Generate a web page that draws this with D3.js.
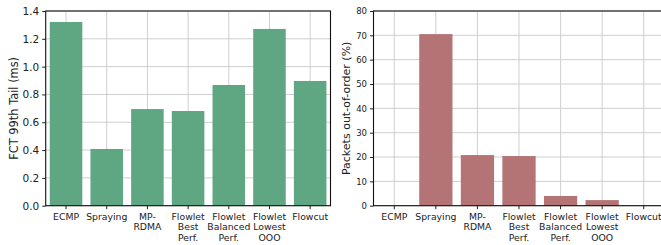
<!DOCTYPE html>
<html>
<head>
<meta charset="utf-8">
<script src="https://cdn.jsdelivr.net/npm/d3@7"></script>
<style>
  body { margin: 0; background: #fff; }
  svg { display: block; font-family: "DejaVu Sans", sans-serif; }
</style>
</head>
<body>
<div id="chart"></div>
<script>
// categories (multi-line labels)
const categories = [
  ["ECMP"],
  ["Spraying"],
  ["MP-", "RDMA"],
  ["Flowlet", "Best", "Perf."],
  ["Flowlet", "Balanced", "Perf."],
  ["Flowlet", "Lowest", "OOO"],
  ["Flowcut"]
];

// series values
const fctTail = [1.321, 0.408, 0.695, 0.681, 0.868, 1.271, 0.897];
const outOfOrder = [0, 70.5, 20.8, 20.4, 4.0, 2.3, 0];

// tick labels
const fctTicks = [0, 0.2, 0.4, 0.6, 0.8, 1.0, 1.2, 1.4];
const oooTicks = [0, 10, 20, 30, 40, 50, 60, 70, 80];

const W = 661, H = 245;

const svg = d3.select("#chart")
  .append("svg")
  .attr("width", W)
  .attr("height", H);

function drawPanel(opts) {
  const { left, right, top, bottom, values, ticks, yMax, color, label,
          labelX, labelSize, tickSize, fmt } = opts;
  const keys = categories.map((c, i) => i);

  const x = d3.scaleBand()
    .domain(keys)
    .range([left, right])
    .paddingInner(0.2)
    .paddingOuter(0.1);

  const y = d3.scaleLinear()
    .domain([0, yMax])
    .range([bottom, top]);

  const g = svg.append("g");

  // grid lines
  g.append("g")
    .selectAll("line.hgrid")
    .data(ticks)
    .join("line")
    .attr("x1", left).attr("x2", right)
    .attr("y1", d => y(d)).attr("y2", d => y(d))
    .attr("stroke", "#cfcfcf")
    .attr("stroke-width", 1);

  g.append("g")
    .selectAll("line.vgrid")
    .data(keys)
    .join("line")
    .attr("x1", d => x(d) + x.bandwidth() / 2)
    .attr("x2", d => x(d) + x.bandwidth() / 2)
    .attr("y1", top).attr("y2", bottom)
    .attr("stroke", "#cfcfcf")
    .attr("stroke-width", 1);

  // bars
  g.append("g")
    .selectAll("rect")
    .data(values)
    .join("rect")
    .attr("x", (d, i) => x(i))
    .attr("width", x.bandwidth())
    .attr("y", d => y(d))
    .attr("height", d => bottom - y(d))
    .attr("fill", color);

  // y axis
  const yAxis = g.append("g")
    .attr("transform", `translate(${left},0)`)
    .call(d3.axisLeft(y).tickValues(ticks).tickFormat(fmt).tickSizeOuter(0).tickSize(3.5).tickPadding(3));
  yAxis.select(".domain").remove();
  yAxis.selectAll("text")
    .attr("font-size", tickSize)
    .attr("fill", "#222")
    .attr("font-family", "DejaVu Sans");
  yAxis.selectAll("line").attr("stroke", "#222");

  // x axis
  const xAxis = g.append("g")
    .attr("transform", `translate(0,${bottom})`)
    .call(d3.axisBottom(x).tickFormat("").tickSizeOuter(0).tickSize(3.5));
  xAxis.select(".domain").remove();
  xAxis.selectAll("line").attr("stroke", "#222");

  xAxis.selectAll(".tick")
    .append("text")
    .attr("fill", "#222")
    .attr("font-size", 9.3)
    .attr("font-family", "DejaVu Sans")
    .attr("text-anchor", "middle")
    .selectAll("tspan")
    .data(d => categories[d])
    .join("tspan")
    .attr("x", 0)
    .attr("y", (d, i) => 14 + i * 10.8)
    .text(d => d);

  // frame
  g.append("rect")
    .attr("x", left).attr("y", top)
    .attr("width", right - left).attr("height", bottom - top)
    .attr("fill", "none")
    .attr("stroke", "#111")
    .attr("stroke-width", 1.1);

  // y label
  g.append("text")
    .attr("transform", `translate(${labelX},${(top + bottom) / 2}) rotate(-90)`)
    .attr("text-anchor", "middle")
    .attr("dominant-baseline", "central")
    .attr("font-size", labelSize)
    .attr("fill", "#222")
    .text(label);
}

drawPanel({
  left: 45.7, right: 330.5, top: 11, bottom: 205.7,
  values: fctTail, ticks: fctTicks, yMax: 1.4,
  color: "#5fa783", label: "FCT 99th Tail (ms)", labelX: 13.5,
  labelSize: 11.4, tickSize: 10.5, fmt: d3.format(".1f")
});

drawPanel({
  left: 373.5, right: 664.5, top: 11, bottom: 205.7,
  values: outOfOrder, ticks: oooTicks, yMax: 80,
  color: "#b47374", label: "Packets out-of-order (%)", labelX: 346.5,
  labelSize: 11, tickSize: 8.5, fmt: d3.format("d")
});
</script>
</body>
</html>
